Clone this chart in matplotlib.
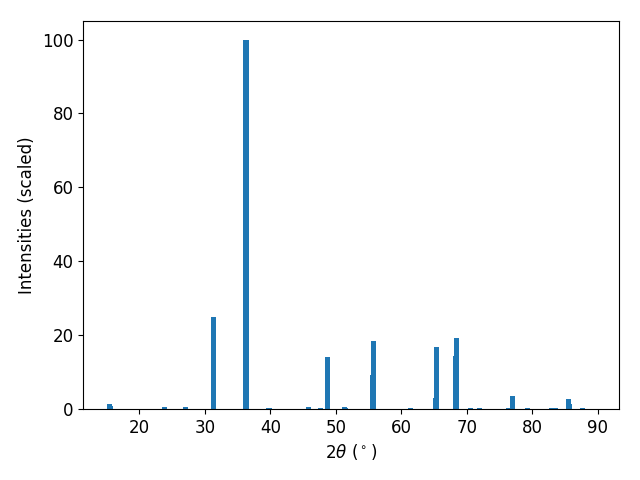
import matplotlib
matplotlib.use("Agg")
import matplotlib.pyplot as plt

# peak positions (2theta, deg) and scaled intensities
two_theta = [15.5, 15.65, 23.9, 27.1, 31.35, 36.3, 39.8, 45.8, 47.7, 48.7,
             51.3, 51.5, 55.6, 55.75, 61.4, 65.2, 65.35, 68.25, 68.4,
             70.5, 71.9, 76.3, 77.0, 79.2, 83.0, 83.5, 85.5, 85.7, 87.6]
intensity = [1.3, 0.8, 0.6, 0.6, 25.0, 100.0, 0.3, 0.5, 0.25, 14.1,
             0.5, 0.3, 9.2, 18.4, 0.3, 3.0, 16.8, 14.4, 19.2,
             0.3, 0.3, 0.3, 3.5, 0.3, 0.3, 0.3, 2.7, 1.4, 0.3]

fig, ax = plt.subplots(figsize=(6.4, 4.8), dpi=100)
ax.bar(two_theta, intensity, width=0.8, color="#1f77b4")
ax.set_xlim(11.45, 93.2)
ax.set_xlabel(r"$2\theta$ ($^\circ$)", fontsize=12)
ax.set_ylabel("Intensities (scaled)", fontsize=12)
ax.tick_params(labelsize=12)
fig.subplots_adjust(left=0.13, right=0.967, top=0.956, bottom=0.148)
plt.savefig("out.png")
